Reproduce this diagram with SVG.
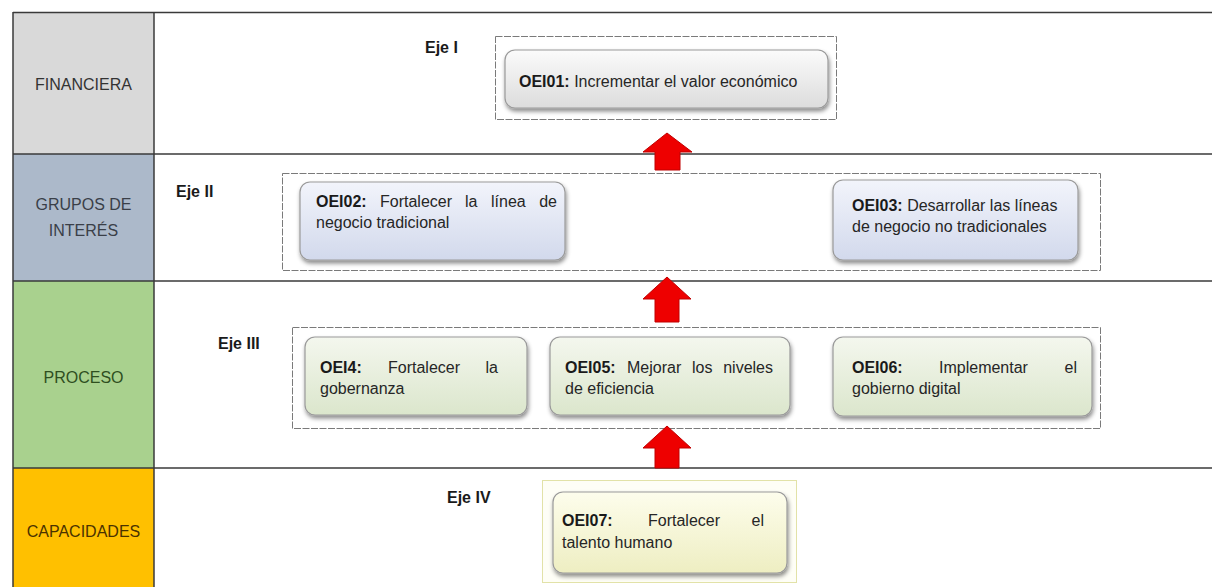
<svg xmlns="http://www.w3.org/2000/svg" width="1212" height="587" viewBox="0 0 1212 587">
  <style>
    text { font-family: "Liberation Sans", Arial, sans-serif; font-size: 16px; fill: #262626; }
    .lbl { text-anchor: middle; }
    .eje { font-weight: bold; fill: #1a1a1a; }
    .b { font-weight: bold; fill: #1a1a1a; }
    .end { text-anchor: end; }
    .grid { stroke: #3a3a3a; stroke-width: 1.5; fill: none; }
    .frame { fill: none; stroke: #7a7a7a; stroke-width: 1; stroke-dasharray: 7 1.5; }
    .card { stroke: #9a9a9a; stroke-width: 1.2; filter: url(#shadow); }
    .arrow { fill: #ee0000; stroke: #c00000; stroke-width: 1; }
  </style>
  <defs>
    <filter id="shadow" x="-10%" y="-20%" width="120%" height="150%">
      <feDropShadow dx="1" dy="3" stdDeviation="2" flood-color="#000" flood-opacity="0.45"/>
    </filter>
    <linearGradient id="gGrey" x1="0" y1="0" x2="0" y2="1">
      <stop offset="0" stop-color="#fbfbfb"/>
      <stop offset="1" stop-color="#dcdcdc"/>
    </linearGradient>
    <linearGradient id="gBlue" x1="0" y1="0" x2="0" y2="1">
      <stop offset="0" stop-color="#f2f4fb"/>
      <stop offset="1" stop-color="#d2d9ec"/>
    </linearGradient>
    <linearGradient id="gGreen" x1="0" y1="0" x2="0" y2="1">
      <stop offset="0" stop-color="#f4f7ee"/>
      <stop offset="1" stop-color="#dbe6cc"/>
    </linearGradient>
    <linearGradient id="gYellow" x1="0" y1="0" x2="0" y2="1">
      <stop offset="0" stop-color="#fdfdec"/>
      <stop offset="1" stop-color="#eeeec2"/>
    </linearGradient>
  </defs>

  <rect width="1212" height="587" fill="#ffffff"/>

  <!-- perspective column -->
  <g id="perspectives">
    <rect x="13" y="12.5" width="141" height="141.5" fill="#d9d9d9"/>
    <rect x="13" y="154" width="141" height="127" fill="#acb9ca"/>
    <rect x="13" y="281" width="141" height="187" fill="#a9d18e"/>
    <rect x="13" y="468" width="141" height="119" fill="#ffc000"/>
    <text class="lbl" x="83.5" y="90" style="fill:#333333">FINANCIERA</text>
    <text class="lbl" x="83.5" y="210" style="fill:#3a3f48">GRUPOS DE</text>
    <text class="lbl" x="83.5" y="236" style="fill:#3a3f48">INTERÉS</text>
    <text class="lbl" x="83.5" y="383" style="fill:#2f4f1f">PROCESO</text>
    <text class="lbl" x="83.5" y="537" style="fill:#4a3200">CAPACIDADES</text>
  </g>

  <!-- table rules -->
  <g id="table">
    <line class="grid" x1="13" y1="12.5" x2="1212" y2="12.5"/>
    <line class="grid" x1="13" y1="154" x2="1212" y2="154"/>
    <line class="grid" x1="13" y1="281" x2="1212" y2="281"/>
    <line class="grid" x1="13" y1="468" x2="1212" y2="468"/>
    <line class="grid" x1="13" y1="12" x2="13" y2="587"/>
    <line class="grid" x1="154" y1="12" x2="154" y2="587"/>
  </g>

  <!-- axis frames -->
  <g id="eje-1">
    <text class="eje" x="425" y="53">Eje I</text>
    <rect class="frame" x="495.5" y="36.5" width="341" height="83"/>
  </g>
  <g id="eje-2">
    <text class="eje" x="176" y="197">Eje II</text>
    <rect class="frame" x="282.5" y="173.5" width="818" height="97"/>
  </g>
  <g id="eje-3">
    <text class="eje" x="218" y="349">Eje III</text>
    <rect class="frame" x="292.5" y="327.5" width="808" height="101"/>
  </g>
  <g id="eje-4">
    <text class="eje" x="447" y="503">Eje IV</text>
    <rect x="542.5" y="480.5" width="254" height="102" fill="#fefef6" stroke="#e2e2a8" stroke-width="1"/>
  </g>

  <!-- objectives -->
  <g id="OEI01">
    <rect class="card" x="505" y="50" width="323" height="58" rx="10" fill="url(#gGrey)"/>
    <text x="519" y="87"><tspan class="b">OEI01:</tspan> Incrementar el valor económico</text>
  </g>
  <g id="OEI02">
    <rect class="card" x="300" y="182" width="265" height="78" rx="10" fill="url(#gBlue)"/>
    <text y="207"><tspan class="b" x="316">OEI02:</tspan><tspan x="380">Fortalecer</tspan><tspan x="465">la</tspan><tspan x="491">línea</tspan></text>
    <text class="end" x="557" y="207">de</text>
    <text x="316" y="228">negocio tradicional</text>
  </g>
  <g id="OEI03">
    <rect class="card" x="833" y="180" width="245" height="80" rx="10" fill="url(#gBlue)"/>
    <text x="852" y="211"><tspan class="b">OEI03:</tspan> Desarrollar las líneas</text>
    <text x="852" y="232">de negocio no tradicionales</text>
  </g>
  <g id="OEI04">
    <rect class="card" x="305" y="337" width="222" height="78" rx="10" fill="url(#gGreen)"/>
    <text y="373"><tspan class="b" x="320">OEI4:</tspan><tspan x="388">Fortalecer</tspan></text>
    <text class="end" x="498" y="373">la</text>
    <text x="320" y="394">gobernanza</text>
  </g>
  <g id="OEI05">
    <rect class="card" x="550" y="337" width="240" height="78" rx="10" fill="url(#gGreen)"/>
    <text y="373"><tspan class="b" x="565">OEI05:</tspan><tspan x="627">Mejorar</tspan><tspan x="692">los</tspan></text>
    <text class="end" x="773" y="373">niveles</text>
    <text x="565" y="394">de eficiencia</text>
  </g>
  <g id="OEI06">
    <rect class="card" x="833" y="337" width="259" height="79" rx="10" fill="url(#gGreen)"/>
    <text y="373"><tspan class="b" x="852">OEI06:</tspan><tspan x="939">Implementar</tspan></text>
    <text class="end" x="1077" y="373">el</text>
    <text x="852" y="394">gobierno digital</text>
  </g>
  <g id="OEI07">
    <rect class="card" x="553" y="492" width="234" height="81" rx="10" fill="url(#gYellow)"/>
    <text y="526"><tspan class="b" x="562">OEI07:</tspan><tspan x="648">Fortalecer</tspan></text>
    <text class="end" x="764" y="526">el</text>
    <text x="562" y="548">talento humano</text>
  </g>

  <!-- upward block arrows between axes -->
  <g id="connectors">
    <path class="arrow" d="M667,133 L692,152 L680,152 L680,170 L655,170 L655,152 L643,152 Z"/>
    <path class="arrow" d="M667,277 L691,299 L679,299 L679,322 L655,322 L655,299 L643,299 Z"/>
    <path class="arrow" d="M667,426 L691,448 L679,448 L679,468 L655,468 L655,448 L643,448 Z"/>
  </g>
</svg>
